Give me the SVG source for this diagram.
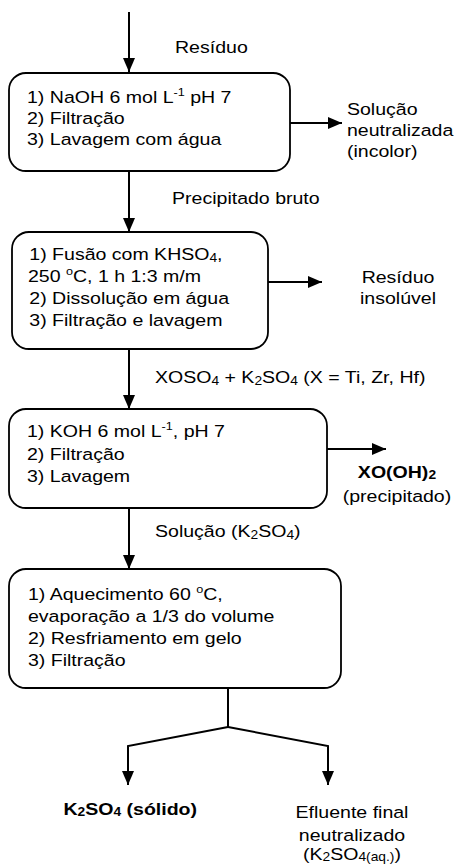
<svg xmlns="http://www.w3.org/2000/svg" width="459" height="866" viewBox="0 0 459 866">
<defs>
<marker id="ah" viewBox="0 0 14 12" refX="14" refY="6" markerWidth="14" markerHeight="12" markerUnits="userSpaceOnUse" orient="auto">
<path d="M0,0 L14,6 L0,12 Z" fill="#000"/>
</marker>
<style>
text{font-family:"Liberation Sans",Arial,sans-serif;font-size:17px;fill:#000}
.box{fill:#fff;stroke:#000;stroke-width:1.8}
.c{fill:none;stroke:#000;stroke-width:2}
.b{font-weight:bold}
.m{text-anchor:middle}
.sub{font-size:12px}
.sup{font-size:11px}
</style>
</defs>
<rect width="459" height="866" fill="#fff"/>
<g id="connectors">
<line class="c" x1="129" y1="12" x2="129" y2="72" marker-end="url(#ah)"/>
<line class="c" x1="290" y1="123" x2="342" y2="123" marker-end="url(#ah)"/>
<line class="c" x1="129" y1="172" x2="129" y2="232" marker-end="url(#ah)"/>
<line class="c" x1="268" y1="282" x2="322" y2="282" marker-end="url(#ah)"/>
<line class="c" x1="129" y1="349" x2="129" y2="409" marker-end="url(#ah)"/>
<line class="c" x1="327" y1="449" x2="386" y2="449" marker-end="url(#ah)"/>
<line class="c" x1="129" y1="508" x2="129" y2="569" marker-end="url(#ah)"/>
<polyline class="c" points="228,688 228,727"/>
<polyline class="c" points="228,727 128,746 128,785" marker-end="url(#ah)"/>
<polyline class="c" points="228,727 328,746 328,785" marker-end="url(#ah)"/>
</g>
<g id="lbl-residuo"><g transform="scale(1.15 1)"><text x="152.2" y="53">Resíduo</text></g></g>
<g id="box1">
<rect class="box" x="9" y="73" width="281" height="98" rx="17"/>
<g transform="scale(1.15 1)">
<text x="23.5" y="103">1) NaOH 6 mol L<tspan class="sup" dy="-7">-1</tspan><tspan dy="7"> pH 7</tspan></text>
<text x="23.5" y="124">2) Filtração</text>
<text x="23.5" y="145">3) Lavagem com água</text>
</g>
</g>
<g id="out1"><g transform="scale(1.15 1)">
<text x="301.7" y="115">Solução</text>
<text x="301.7" y="136">neutralizada</text>
<text x="301.7" y="157">(incolor)</text>
</g></g>
<g id="lbl-precip"><g transform="scale(1.15 1)"><text x="149.6" y="204">Precipitado bruto</text></g></g>
<g id="box2">
<rect class="box" x="12" y="232" width="256" height="117" rx="17"/>
<g transform="scale(1.15 1)">
<text x="25.5" y="260">1) Fusão com  KHSO<tspan class="sub" dy="2">4</tspan><tspan dy="-2">,</tspan></text>
<text x="24.3" y="282">250 <tspan class="sup" dy="-7">o</tspan><tspan dy="7">C, 1 h 1:3 m/m</tspan></text>
<text x="25.5" y="304">2) Dissolução em água</text>
<text x="25.5" y="326">3) Filtração e lavagem</text>
</g>
</g>
<g id="out2"><g transform="scale(1.15 1)">
<text class="m" x="346.1" y="283">Resíduo</text>
<text class="m" x="346.1" y="304">insolúvel</text>
</g></g>
<g id="lbl-xoso4"><g transform="scale(1.15 1)"><text x="134.8" y="383">XOSO<tspan class="sub" dy="2">4</tspan><tspan dy="-2"> + K</tspan><tspan class="sub" dy="2">2</tspan><tspan dy="-2">SO</tspan><tspan class="sub" dy="2">4</tspan><tspan dy="-2"> (X = Ti, Zr, Hf)</tspan></text></g></g>
<g id="box3">
<rect class="box" x="9" y="409" width="318" height="99" rx="17"/>
<g transform="scale(1.15 1)">
<text x="23.5" y="437">1) KOH 6 mol L<tspan class="sup" dy="-7">-1</tspan><tspan dy="7">, pH 7</tspan></text>
<text x="23.5" y="460">2) Filtração</text>
<text x="23.5" y="482">3) Lavagem</text>
</g>
</g>
<g id="out3"><g transform="scale(1.15 1)">
<text class="m b" x="345.2" y="478">XO(OH)<tspan class="sub" dy="1">2</tspan></text>
<text class="m" x="345.2" y="502">(precipitado)</text>
</g></g>
<g id="lbl-sol"><g transform="scale(1.15 1)"><text x="134.8" y="537">Solução (K<tspan class="sub" dy="2">2</tspan><tspan dy="-2">SO</tspan><tspan class="sub" dy="2">4</tspan><tspan dy="-2">)</tspan></text></g></g>
<g id="box4">
<rect class="box" x="9" y="569" width="332" height="119" rx="17"/>
<g transform="scale(1.15 1)">
<text x="24.3" y="600">1) Aquecimento 60 <tspan class="sup" dy="-7">o</tspan><tspan dy="7">C,</tspan></text>
<text x="24.3" y="622">evaporação a 1/3 do volume</text>
<text x="24.3" y="644">2) Resfriamento em gelo</text>
<text x="24.3" y="666">3) Filtração</text>
</g>
</g>
<g id="out4a"><g transform="scale(1.15 1)">
<text class="b" x="55.2" y="815">K<tspan class="sub" dy="1">2</tspan><tspan dy="-1">SO</tspan><tspan class="sub" dy="1">4</tspan><tspan dy="-1"> (sólido)</tspan></text>
</g></g>
<g id="out4b"><g transform="scale(1.15 1)">
<text class="m" x="306.1" y="818">Efluente final</text>
<text class="m" x="306.1" y="841">neutralizado</text>
<text class="m" x="306.1" y="860">(K<tspan class="sub" dy="1.5">2</tspan><tspan dy="-1.5">SO</tspan><tspan class="sub" dy="1.5">4(aq.)</tspan><tspan dy="-1.5">)</tspan></text>
</g></g>
</svg>
